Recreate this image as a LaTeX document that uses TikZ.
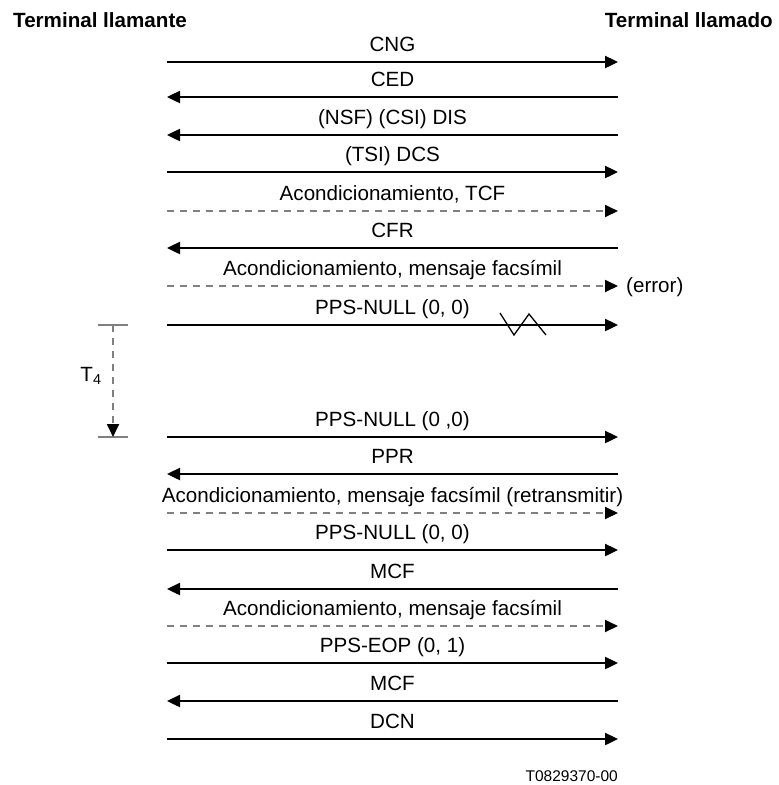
\documentclass[tikz,border=0pt]{standalone}
\usepackage{fontspec}
\setmainfont{Liberation Sans}
\usetikzlibrary{arrows.meta}
\begin{document}
\begin{tikzpicture}[x=1pt,y=-1pt,
  msg/.style={line width=2.4pt,-{Triangle[length=13pt,width=12pt]}},
  dmsg/.style={line width=1.8pt,draw=black!50,dash pattern=on 7pt off 6pt,-{Triangle[length=13pt,width=12pt,black]}},
  lab/.style={font=\fontsize{20.6}{24}\selectfont,anchor=base,inner sep=0pt},
  ttl/.style={font=\fontsize{20.6}{24}\selectfont\bfseries,anchor=base,inner sep=0pt}]
\useasboundingbox (0,0) rectangle (779,785);
% titles
\node[ttl,anchor=base west] (tA) at (13,27) {Terminal llamante};
\node[ttl,anchor=base east] (tB) at (773,27) {Terminal llamado};
% row coordinates
\foreach \n/\y in {1/62,2/97,3/135,4/172,5/211,6/248,7/286,8/325,9/437,10/474,11/513,12/550,13/589,14/626,15/663,16/701,17/739}{
  \coordinate (L\n) at (167,\y);
  \coordinate (R\n) at (618,\y);
  \coordinate (M\n) at (392.5,\y-11);
}
% messages
\draw[msg] (L1) -- (R1);  \node[lab] (m1) at (M1) {CNG};
\draw[msg] (R2) -- (L2);  \node[lab] (m2) at (M2) {CED};
\draw[msg] (R3) -- (L3);  \node[lab] (m3) at (M3) {(NSF) (CSI) DIS};
\draw[msg] (L4) -- (R4);  \node[lab] (m4) at (M4) {(TSI) DCS};
\draw[dmsg] (L5) -- (R5); \node[lab] (m5) at (M5) {Acondicionamiento, TCF};
\draw[msg] (R6) -- (L6);  \node[lab] (m6) at (M6) {CFR};
\draw[dmsg] (L7) -- (R7); \node[lab] (m7) at (M7) {Acondicionamiento, mensaje facsímil};
\node[font=\fontsize{20.6}{24}\selectfont,anchor=west,inner sep=0pt] (err) at (626,287) {(error)};
\draw[msg] (L8) -- (R8);  \node[lab] (m8) at (M8) {PPS-NULL (0, 0)};
\draw[line width=1.3pt] (500,313) -- (514,335) -- (529,314) -- (546,335);
\draw[msg] (L9) -- (R9);  \node[lab] (m9) at (M9) {PPS-NULL (0 ,0)};
\draw[msg] (R10) -- (L10); \node[lab] (m10) at (M10) {PPR};
\draw[dmsg] (L11) -- (R11); \node[lab] (m11) at (M11) {Acondicionamiento, mensaje facsímil (retransmitir)};
\draw[msg] (L12) -- (R12); \node[lab] (m12) at (M12) {PPS-NULL (0, 0)};
\draw[msg] (R13) -- (L13); \node[lab] (m13) at (M13) {MCF};
\draw[dmsg] (L14) -- (R14); \node[lab] (m14) at (M14) {Acondicionamiento, mensaje facsímil};
\draw[msg] (L15) -- (R15); \node[lab] (m15) at (M15) {PPS-EOP (0, 1)};
\draw[msg] (R16) -- (L16); \node[lab] (m16) at (M16) {MCF};
\draw[msg] (L17) -- (R17); \node[lab] (m17) at (M17) {DCN};
% timer T4
\coordinate (ta) at (113,325);
\coordinate (tb) at (113,437);
\draw[line width=1.3pt,black!50] (98,325) -- (128,325);
\draw[line width=1.3pt,black!50] (98,437) -- (128,437);
\draw[line width=1.8pt,draw=black!50,dash pattern=on 7pt off 6pt,-{Triangle[length=13pt,width=12pt,black]}] (ta) -- (tb);
\node[font=\fontsize{20.6}{24}\selectfont,inner sep=0pt] (t4) at (91,376) {T\textsubscript{4}};
% figure id
\node[font=\fontsize{15.5}{18}\selectfont,anchor=base east,inner sep=0pt] (fid) at (618,781) {T0829370-00};
\end{tikzpicture}
\end{document}
